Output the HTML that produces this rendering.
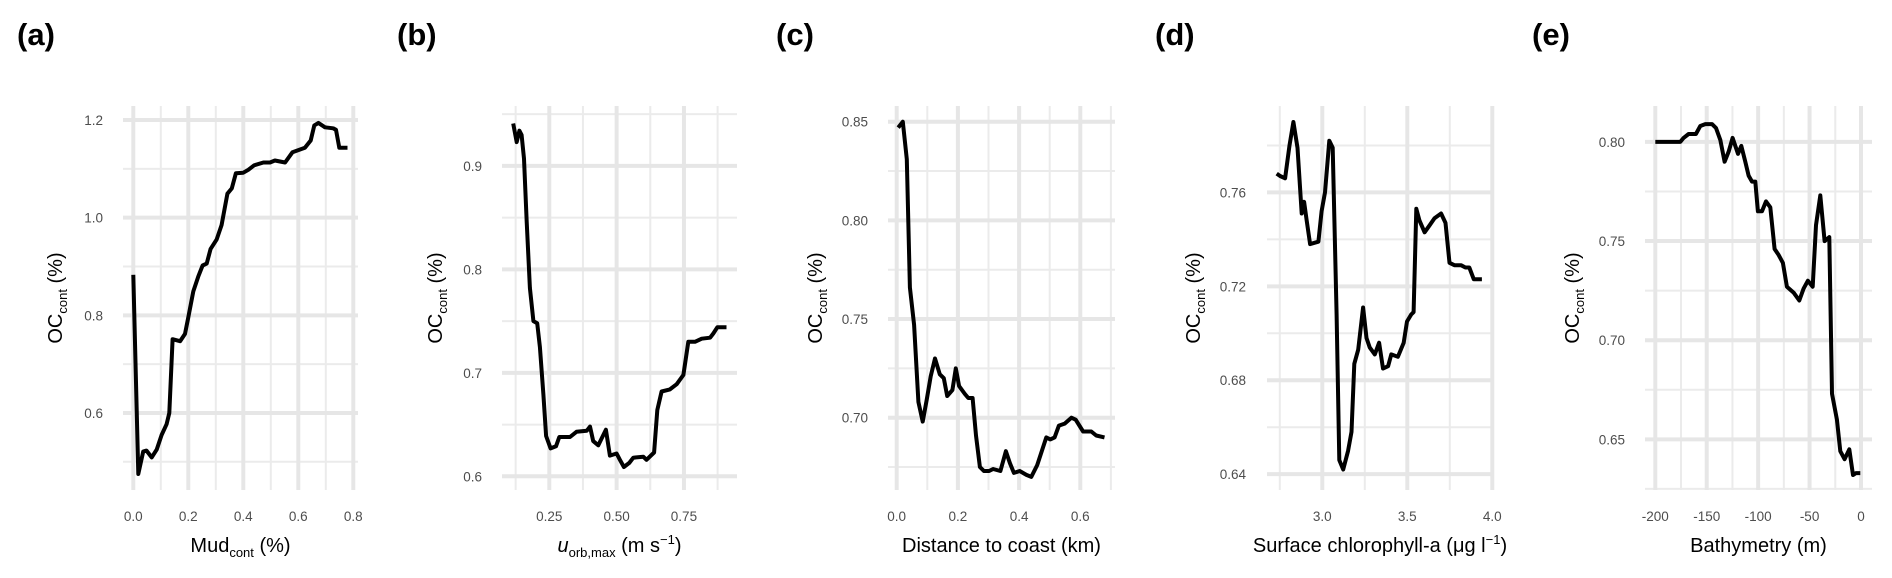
<!DOCTYPE html>
<html><head><meta charset="utf-8">
<style>
html,body{margin:0;padding:0;background:#fff;}
svg{display:block;font-family:"Liberation Sans",Arial,sans-serif;}
</style></head>
<body>
<svg id="fig" width="1892" height="578" viewBox="0 0 1892 578" xmlns="http://www.w3.org/2000/svg"></svg>
<script>
// ---- data (a) Mud ----
const aX=[0,0.018,0.036,0.048,0.067,0.085,0.103,0.121,0.131,0.143,0.170,0.188,0.2,0.218,0.236,0.252,0.267,0.281,0.303,0.321,0.342,0.358,0.373,0.4,0.418,0.439,0.473,0.497,0.515,0.552,0.579,0.624,0.645,0.658,0.673,0.697,0.727,0.737,0.749,0.779];
const aY=[0.883,0.475,0.521,0.523,0.509,0.525,0.555,0.577,0.6,0.751,0.747,0.762,0.796,0.849,0.879,0.902,0.906,0.936,0.955,0.985,1.049,1.060,1.091,1.092,1.098,1.107,1.113,1.113,1.117,1.113,1.134,1.143,1.158,1.189,1.194,1.185,1.183,1.180,1.143,1.143];
const aXTicks=[0,0.2,0.4,0.6,0.8];
const aXTickLabels=["0.0","0.2","0.4","0.6","0.8"];
const aYTicks=[0.6,0.8,1.0,1.2];
const aYTickLabels=["0.6","0.8","1.0","1.2"];
// ---- data (b) u_orb ----
const bX=[0.116,0.129,0.139,0.147,0.156,0.166,0.178,0.191,0.205,0.215,0.228,0.238,0.255,0.275,0.287,0.327,0.351,0.389,0.401,0.413,0.432,0.460,0.475,0.500,0.512,0.527,0.547,0.562,0.599,0.611,0.639,0.651,0.667,0.698,0.723,0.748,0.766,0.791,0.816,0.847,0.859,0.874,0.908];
const bY=[0.941,0.923,0.934,0.930,0.907,0.846,0.782,0.750,0.748,0.725,0.679,0.639,0.627,0.629,0.638,0.638,0.643,0.644,0.648,0.634,0.630,0.645,0.620,0.622,0.616,0.609,0.613,0.618,0.619,0.616,0.623,0.664,0.682,0.684,0.689,0.698,0.730,0.730,0.733,0.734,0.738,0.744,0.744];
const bXTicks=[0.25,0.5,0.75];
const bXTickLabels=["0.25","0.50","0.75"];
const bYTicks=[0.6,0.7,0.8,0.9];
const bYTickLabels=["0.6","0.7","0.8","0.9"];
// ---- data (c) distance ----
const cX=[0.005,0.020,0.033,0.043,0.057,0.071,0.085,0.098,0.111,0.125,0.141,0.154,0.165,0.182,0.193,0.204,0.223,0.234,0.248,0.259,0.272,0.285,0.302,0.315,0.339,0.357,0.370,0.383,0.402,0.424,0.440,0.459,0.476,0.489,0.502,0.516,0.530,0.549,0.571,0.585,0.609,0.636,0.652,0.679];
const cY=[0.847,0.850,0.831,0.766,0.747,0.708,0.698,0.709,0.721,0.730,0.722,0.720,0.711,0.714,0.725,0.716,0.712,0.710,0.710,0.691,0.675,0.673,0.673,0.674,0.673,0.683,0.677,0.672,0.673,0.671,0.670,0.676,0.684,0.690,0.689,0.690,0.696,0.697,0.700,0.699,0.693,0.693,0.691,0.690];
const cXTicks=[0,0.2,0.4,0.6];
const cXTickLabels=["0.0","0.2","0.4","0.6"];
const cYTicks=[0.70,0.75,0.80,0.85];
const cYTickLabels=["0.70","0.75","0.80","0.85"];
// ---- data (d) chlorophyll ----
const dX=[2.732,2.752,2.781,2.807,2.830,2.854,2.879,2.893,2.908,2.928,2.977,2.996,3.016,3.041,3.061,3.084,3.100,3.123,3.152,3.172,3.188,3.211,3.240,3.260,3.279,3.309,3.334,3.357,3.387,3.406,3.445,3.479,3.498,3.523,3.537,3.553,3.572,3.602,3.631,3.660,3.699,3.725,3.748,3.777,3.816,3.842,3.865,3.891,3.939];
const dY=[0.768,0.767,0.766,0.780,0.790,0.779,0.751,0.756,0.748,0.738,0.739,0.752,0.760,0.782,0.779,0.708,0.646,0.642,0.650,0.658,0.687,0.693,0.711,0.698,0.694,0.691,0.696,0.685,0.686,0.691,0.690,0.696,0.705,0.708,0.709,0.753,0.748,0.743,0.746,0.749,0.751,0.747,0.730,0.729,0.729,0.728,0.728,0.723,0.723];
const dXTicks=[3.0,3.5,4.0];
const dXTickLabels=["3.0","3.5","4.0"];
const dYTicks=[0.64,0.68,0.72,0.76];
const dYTickLabels=["0.64","0.68","0.72","0.76"];
// ---- data (e) bathymetry ----
const eX=[-200,-175.7,-172.5,-167.6,-160.5,-156.2,-151.4,-144.9,-141.0,-136.8,-132.6,-128.7,-124.8,-119.6,-116.4,-112.5,-109.3,-106.0,-102.8,-100.2,-96.3,-92.4,-88.2,-84.0,-80.1,-75.9,-72.0,-65.5,-60.0,-55.8,-51.6,-47.0,-43.8,-39.6,-35.4,-30.8,-28.2,-23.4,-20.1,-15.9,-11.4,-7.8,-4.9,-0.7];
const eY=[0.800,0.800,0.802,0.804,0.804,0.808,0.809,0.809,0.807,0.801,0.790,0.795,0.802,0.794,0.798,0.790,0.783,0.780,0.780,0.765,0.765,0.770,0.767,0.746,0.743,0.739,0.727,0.724,0.720,0.726,0.730,0.727,0.758,0.773,0.750,0.752,0.673,0.660,0.644,0.640,0.645,0.632,0.633,0.633];
const eXTicks=[-200,-150,-100,-50,0];
const eXTickLabels=["-200","-150","-100","-50","0"];
const eYTicks=[0.65,0.70,0.75,0.80];
const eYTickLabels=["0.65","0.70","0.75","0.80"];

const NS="http://www.w3.org/2000/svg";
const svg=document.getElementById('fig');
function mk(tag,attrs,parent){const e=document.createElementNS(NS,tag);for(const k in attrs)e.setAttribute(k,attrs[k]);(parent||svg).appendChild(e);return e;}

function drawPanel(id,L,xs,ys,xT,xTL,yT,yTL,titleHTML){
  const g=mk('g',{});
  
  
  const sx=v=>L.x0px+(v-L.x0)*L.kx;
  const sy=v=>L.y0px-(v-L.y0)*L.ky;
  // minor grid
  const xStep=xT[1]-xT[0], yStep=yT[1]-yT[0];
  const xMin=[];for(let i=-1;i<xT.length;i++){xMin.push(xT[0]+xStep*(i+0.5));}
  const yMin=[];for(let i=-1;i<yT.length;i++){yMin.push(yT[0]+yStep*(i+0.5));}
  xMin.forEach(v=>{const p=sx(v);if(p<L.left||p>L.right)return;
    const l=mk('line',{x1:p,x2:p,y1:L.top,y2:L.bottom,stroke:'#ebebeb','stroke-width':2},g);
    
    });
  yMin.forEach(v=>{const p=sy(v);if(p<L.top||p>L.bottom)return;
    const l=mk('line',{x1:L.left,x2:L.right,y1:p,y2:p,stroke:'#ebebeb','stroke-width':2},g);
    
    });
  xT.forEach((v,i)=>{const p=sx(v);
    const l=mk('line',{x1:p,x2:p,y1:L.top,y2:L.bottom,stroke:'#e6e6e6','stroke-width':4},g);
    
    
    const t=mk('text',{x:p,y:521,'text-anchor':'middle','font-size':13.5,fill:'#4d4d4d'},g);
    t.textContent=xTL[i];
    
    });
  yT.forEach((v,i)=>{const p=sy(v);
    const l=mk('line',{x1:L.left,x2:L.right,y1:p,y2:p,stroke:'#e6e6e6','stroke-width':4},g);
    
    
    const t=mk('text',{x:L.ylabR,y:p+5,'text-anchor':'end','font-size':13.5,fill:'#4d4d4d'},g);
    t.textContent=yTL[i];
    
    });
  const d=xs.map((v,i)=>(i?'L':'M')+sx(v).toFixed(1)+','+sy(ys[i]).toFixed(1)).join(' ');
  const path=mk('path',{d:d,fill:'none',stroke:'#000','stroke-width':4,'stroke-linejoin':'round'},g);
  
  
  // panel label
  const pl=mk('text',{x:L.labX,y:45,'font-size':31,'font-weight':'bold',fill:'#000'},g);
  pl.textContent='('+id+')';
  
  
  // y title
  const yt=mk('text',{x:0,y:0,'text-anchor':'middle','font-size':20,fill:'#000',transform:'translate('+(L.ytX+7)+',298) rotate(-90)'},g);
  yt.innerHTML='OC<tspan font-size="13" dy="5">cont</tspan><tspan dy="-5"> (%)</tspan>';
  
  
  const xt=mk('text',{x:(L.left+L.right)/2,y:552,'text-anchor':'middle','font-size':20,fill:'#000'},g);
  xt.innerHTML=titleHTML;
  
  
}

drawPanel('a',{left:123,right:358,top:106,bottom:490,x0:0,x0px:133.3,kx:275,y0:1.2,y0px:120,ky:488.3,ylabR:103,ytX:55,labX:17},
  aX,aY,aXTicks,aXTickLabels,aYTicks,aYTickLabels,
  'Mud<tspan font-size="13" dy="5">cont</tspan><tspan dy="-5"> (%)</tspan>');
drawPanel('b',{left:502,right:737,top:106,bottom:490,x0:0.25,x0px:549.3,kx:269.3,y0:0.9,y0px:165.9,ky:1034.7,ylabR:482,ytX:435,labX:397},
  bX,bY,bXTicks,bXTickLabels,bYTicks,bYTickLabels,
  '<tspan font-style="italic">u</tspan><tspan font-size="13" dy="5">orb,max</tspan><tspan dy="-5"> (m s</tspan><tspan font-size="13" dy="-8">−1</tspan><tspan dy="8">)</tspan>');
drawPanel('c',{left:888,right:1115,top:106,bottom:490,x0:0,x0px:896.7,kx:306,y0:0.85,y0px:121.7,ky:1973.3,ylabR:868,ytX:815,labX:776},
  cX,cY,cXTicks,cXTickLabels,cYTicks,cYTickLabels,
  'Distance to coast (km)');
drawPanel('d',{left:1267,right:1493,top:106,bottom:490,x0:3.0,x0px:1322.3,kx:170,y0:0.76,y0px:192.4,ky:2348,ylabR:1246,ytX:1193,labX:1155},
  dX,dY,dXTicks,dXTickLabels,dYTicks,dYTickLabels,
  'Surface chlorophyll-a (μg l<tspan font-size="13" dy="-8">−1</tspan><tspan dy="8">)</tspan>');
drawPanel('e',{left:1645,right:1872,top:106,bottom:490,x0:-200,x0px:1655.3,kx:1.0285,y0:0.8,y0px:141.9,ky:1983,ylabR:1625,ytX:1572,labX:1532},
  eX,eY,eXTicks,eXTickLabels,eYTicks,eYTickLabels,
  'Bathymetry (m)');
</script>
</body></html>
